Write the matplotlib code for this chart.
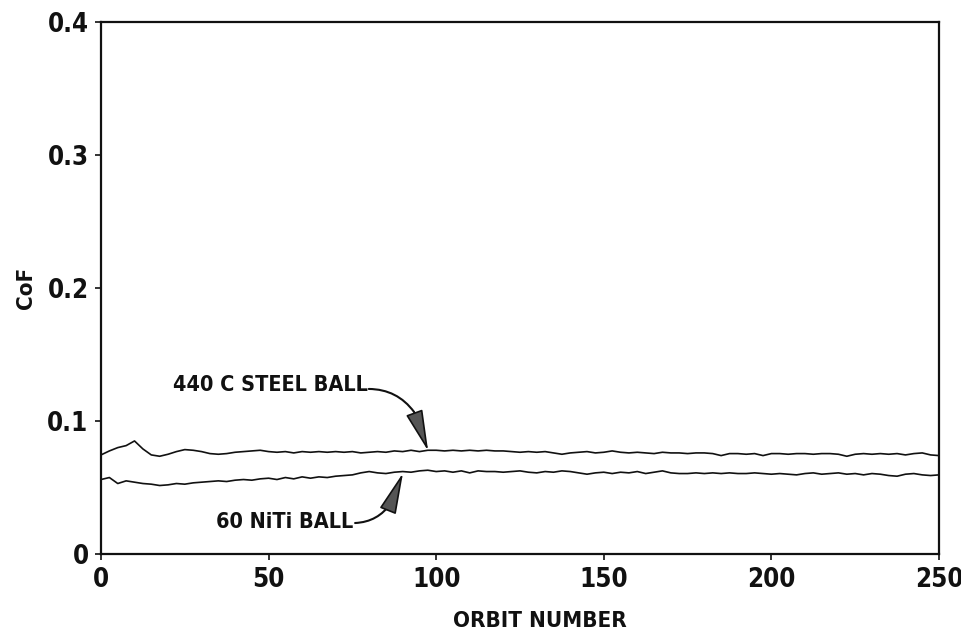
import numpy as np
import matplotlib
matplotlib.use("Agg")
import matplotlib.pyplot as plt

plt.rcParams['font.family'] = ['DejaVu Sans']
plt.rcParams['font.stretch'] = 'condensed'
plt.rcParams['font.weight'] = 'bold'

# CoF vs orbit number, sampled every 2.5 orbits from 0 to 250
steel_440c = [
    0.0745, 0.0775, 0.0800, 0.0815, 0.0850, 0.0790, 0.0745, 0.0735, 0.0750, 0.0770,
    0.0785, 0.0780, 0.0770, 0.0755, 0.0750, 0.0755, 0.0765, 0.0770, 0.0775, 0.0780,
    0.0770, 0.0765, 0.0770, 0.0760, 0.0770, 0.0765, 0.0770, 0.0765, 0.0770, 0.0765,
    0.0770, 0.0760, 0.0765, 0.0770, 0.0765, 0.0775, 0.0770, 0.0780, 0.0770, 0.0780,
    0.0780, 0.0775, 0.0780, 0.0775, 0.0780, 0.0775, 0.0780, 0.0775, 0.0775, 0.0770,
    0.0765, 0.0770, 0.0765, 0.0770, 0.0760, 0.0750, 0.0760, 0.0765, 0.0770, 0.0760,
    0.0765, 0.0775, 0.0765, 0.0760, 0.0765, 0.0760, 0.0755, 0.0765, 0.0760, 0.0760,
    0.0755, 0.0760, 0.0760, 0.0755, 0.0740, 0.0755, 0.0755, 0.0750, 0.0755, 0.0740,
    0.0755, 0.0755, 0.0750, 0.0755, 0.0755, 0.0750, 0.0755, 0.0755, 0.0750, 0.0735,
    0.0750, 0.0755, 0.0750, 0.0755, 0.0750, 0.0755, 0.0745, 0.0755, 0.0760, 0.0745,
    0.0740,
]
niti_60 = [
    0.0560, 0.0575, 0.0530, 0.0550, 0.0540, 0.0530, 0.0525, 0.0515, 0.0520, 0.0530,
    0.0525, 0.0535, 0.0540, 0.0545, 0.0550, 0.0545, 0.0555, 0.0560, 0.0555, 0.0565,
    0.0570, 0.0560, 0.0575, 0.0565, 0.0580, 0.0570, 0.0580, 0.0575, 0.0585, 0.0590,
    0.0595, 0.0610, 0.0620, 0.0610, 0.0605, 0.0615, 0.0620, 0.0615, 0.0625, 0.0630,
    0.0620, 0.0625, 0.0615, 0.0625, 0.0610, 0.0625, 0.0620, 0.0620, 0.0615, 0.0620,
    0.0625, 0.0615, 0.0610, 0.0620, 0.0615, 0.0625, 0.0620, 0.0610, 0.0600, 0.0610,
    0.0615, 0.0605, 0.0615, 0.0610, 0.0620, 0.0605, 0.0615, 0.0625, 0.0610, 0.0605,
    0.0605, 0.0610, 0.0605, 0.0610, 0.0605, 0.0610, 0.0605, 0.0605, 0.0610, 0.0605,
    0.0600, 0.0605, 0.0600, 0.0595, 0.0605, 0.0610, 0.0600, 0.0605, 0.0610, 0.0600,
    0.0605, 0.0595, 0.0605, 0.0600, 0.0590, 0.0585, 0.0600, 0.0605, 0.0595, 0.0590,
    0.0595,
]
x_ticks = [0, 50, 100, 150, 200, 250]
y_ticks = [0, 0.1, 0.2, 0.3, 0.4]
y_tick_labels = ['0', '0.1', '0.2', '0.3', '0.4']
steel_label = '440 C STEEL BALL'
niti_label = '60 NiTi BALL'

orbit_s = np.linspace(0, 250, len(steel_440c))
orbit_n = np.linspace(0, 250, len(niti_60))

fig = plt.figure(figsize=(9.61, 6.43), dpi=100)
ax = fig.add_axes([0.1051, 0.1384, 0.872, 0.8274])

ax.plot(orbit_s, steel_440c, color='#111111', lw=1.2)
ax.plot(orbit_n, niti_60, color='#111111', lw=1.2)

ax.set_xlim(0, 250)
ax.set_ylim(0, 0.4)
ax.set_xticks(x_ticks)
ax.set_xticklabels([str(v) for v in x_ticks])
ax.set_yticks(y_ticks)
ax.set_yticklabels(y_tick_labels)
ax.tick_params(direction='out', length=4, width=1.2, labelsize=18.5, pad=5, colors='#111111')
for s in ax.spines.values():
    s.set_linewidth(1.6)
    s.set_color('#111111')

ax.set_xlabel('ORBIT NUMBER', fontsize=16, fontweight='bold', color='#111111')
ax.xaxis.set_label_coords(0.524, -0.107)
ax.set_ylabel('CoF', fontsize=16, fontweight='bold', color='#111111')
ax.yaxis.set_label_coords(-0.078, 0.5)


def curved_arrow(start, base, tip, rad):
    ax.annotate('', xy=base, xytext=start,
                arrowprops=dict(arrowstyle='-', connectionstyle=f'arc3,rad={rad}',
                                lw=1.5, color='#111111', shrinkA=0, shrinkB=0))
    ax.annotate('', xy=tip, xytext=base,
                arrowprops=dict(arrowstyle='-|>,head_length=2.6,head_width=0.55',
                                lw=1.2, color='#111111', fc='#555555',
                                mutation_scale=10, shrinkA=0, shrinkB=0))


# annotations
ax.text(79.5, 0.1272, steel_label, ha='right', va='center', fontsize=15.5,
        fontweight='bold', color='#111111')
curved_arrow((79.9, 0.1241), (93.4, 0.1068), (97.6, 0.0775), -0.25)

ax.text(75.3, 0.0240, niti_label, ha='right', va='center', fontsize=15.5,
        fontweight='bold', color='#111111')
curved_arrow((75.8, 0.0233), (86.5, 0.0383), (90.1, 0.0609), 0.25)

fig.savefig('out.png', dpi=100)
